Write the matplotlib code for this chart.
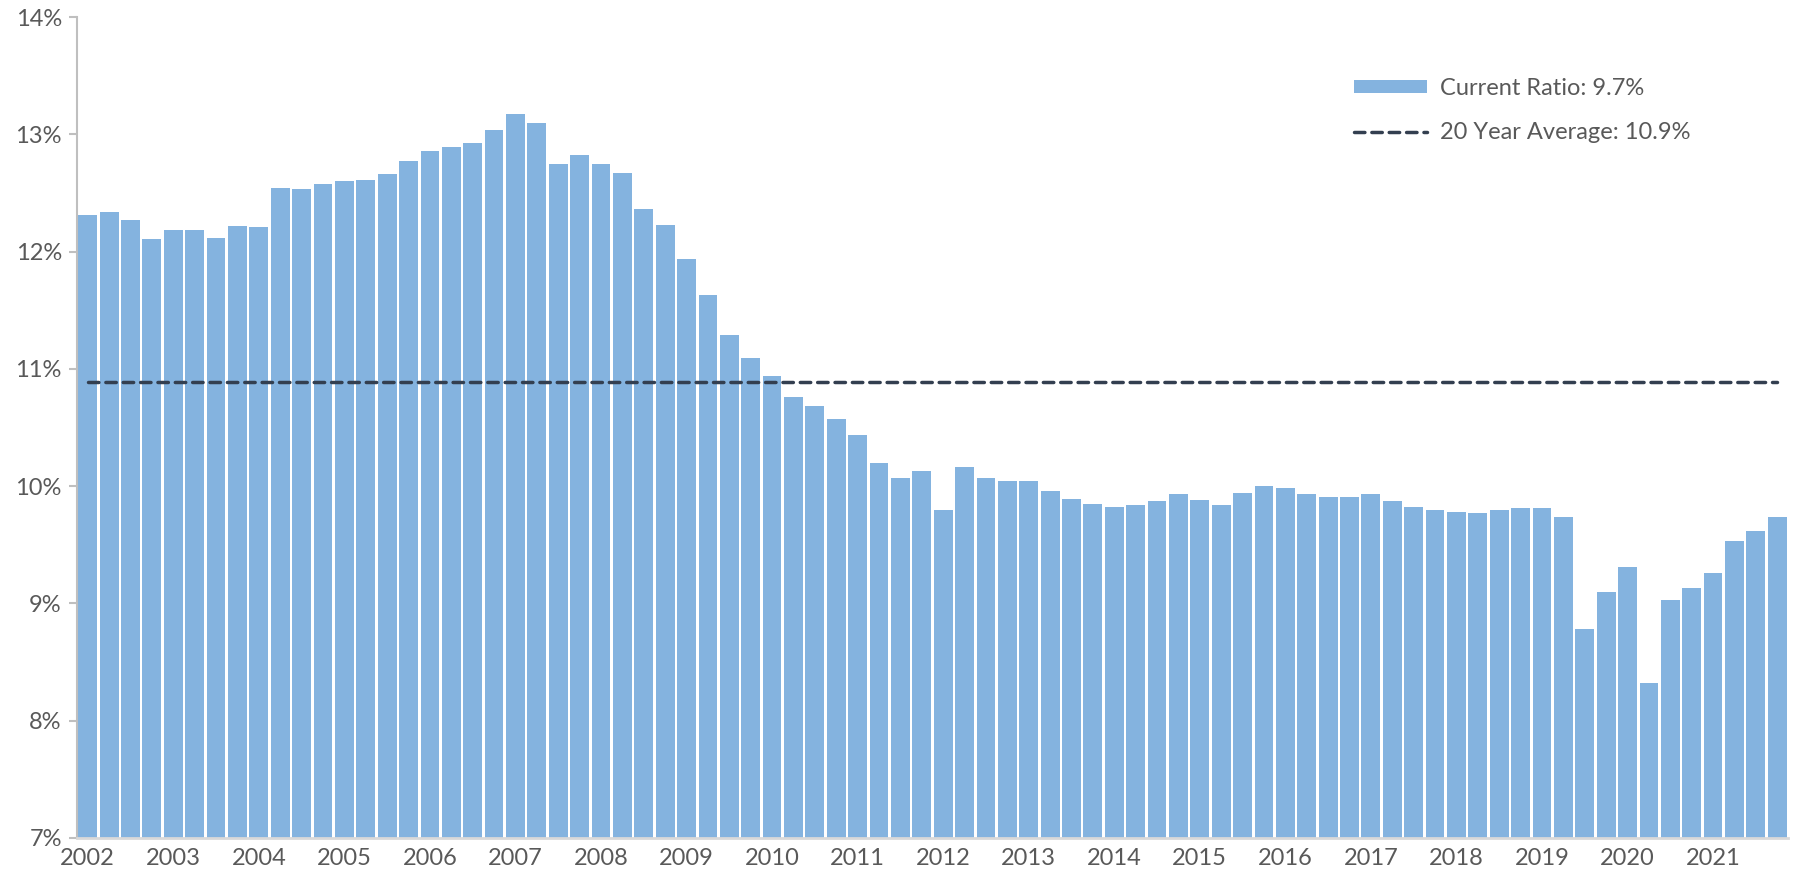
import matplotlib
matplotlib.use("Agg")
import matplotlib.pyplot as plt
from matplotlib.ticker import FuncFormatter
from matplotlib.lines import Line2D
from matplotlib.patches import Patch

years = [str(y) for y in range(2002, 2022)]
current_ratio = [
    12.31, 12.34, 12.27, 12.11,
    12.18, 12.18, 12.12, 12.22,
    12.21, 12.54, 12.53, 12.58,
    12.60, 12.61, 12.66, 12.77,
    12.86, 12.89, 12.93, 13.04,
    13.17, 13.10, 12.75, 12.82,
    12.75, 12.67, 12.36, 12.23,
    11.94, 11.63, 11.29, 11.09,
    10.94, 10.76, 10.68, 10.57,
    10.44, 10.20, 10.07, 10.13,
    9.80, 10.16, 10.07, 10.04,
    10.04, 9.96, 9.89, 9.85,
    9.82, 9.84, 9.87, 9.93,
    9.88, 9.84, 9.94, 10.00,
    9.98, 9.93, 9.91, 9.91,
    9.93, 9.87, 9.82, 9.80,
    9.78, 9.77, 9.80, 9.81,
    9.81, 9.74, 8.78, 9.10,
    9.31, 8.32, 9.03, 9.13,
    9.26, 9.53, 9.62, 9.74,
]
avg_20y = 10.89
yticks = [7, 8, 9, 10, 11, 12, 13, 14]
bar_label = "Current Ratio: 9.7%"
line_label = "20 Year Average: 10.9%"

BAR_COLOR = "#84B3DF"
LINE_COLOR = "#333F50"
TEXT_COLOR = "#595959"

plt.rcParams['font.family'] = ['Lato', 'DejaVu Sans']

fig = plt.figure(figsize=(17.96, 8.82), dpi=100)
ax = fig.add_axes([0.0429, 0.0499, 0.9526, 0.9308])

n = len(current_ratio)
x = list(range(n))
ax.bar(x, current_ratio, width=0.88, color=BAR_COLOR, edgecolor='none', zorder=2)
ax.plot([0, n - 1], [avg_20y, avg_20y], color=LINE_COLOR, lw=2.5,
        linestyle=(0, (3.0, 2.0)), dash_capstyle='round', zorder=3)

ax.set_xlim(-0.5, n - 0.5)
ax.set_ylim(7, 14)
ax.set_yticks(yticks)
ax.yaxis.set_major_formatter(FuncFormatter(lambda v, p: f"{v:.0f}%"))
ax.set_xticks(list(range(0, n, 4)))
ax.set_xticklabels(years)

for s in ['top', 'right']:
    ax.spines[s].set_visible(False)
ax.spines['left'].set_color('#BFBFBF')
ax.spines['left'].set_linewidth(1.5)
ax.spines['bottom'].set_color('#D9D9D9')
ax.spines['bottom'].set_linewidth(2.0)

ax.tick_params(axis='y', colors='#BFBFBF', labelcolor=TEXT_COLOR, labelsize=17,
               length=6, width=1.5, pad=5)
ax.tick_params(axis='x', length=0, labelcolor=TEXT_COLOR, labelsize=17, pad=7)

handles = [Patch(facecolor=BAR_COLOR, edgecolor='none'),
           Line2D([0], [0], color=LINE_COLOR, lw=2.5, linestyle=(0, (3.0, 2.0)),
                  dash_capstyle='round')]
leg = fig.legend(handles, [bar_label, line_label], loc='upper left',
                 bbox_to_anchor=(0.742, 0.936), frameon=False, fontsize=17,
                 labelcolor=TEXT_COLOR, handlelength=3.1, handleheight=0.5,
                 handletextpad=0.55, labelspacing=1.0)

fig.savefig("out.png", dpi=100)
